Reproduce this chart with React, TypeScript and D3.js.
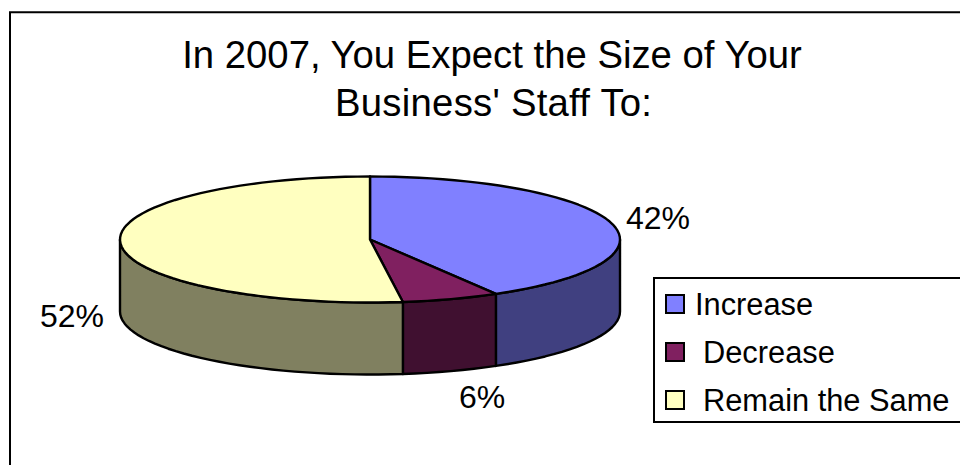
import React from "react";
import * as d3 from "d3";

const categories = ["Increase", "Decrease", "Remain the Same"];
const values = [41.6, 6.3, 52.1];
const topColors = ["#8080FF", "#802060", "#FFFFC0"];
const sideColors = ["#404080", "#401030", "#808060"];
const titleLines = ["In 2007, You Expect the Size of Your", "Business' Staff To:"];
const labelPositions = [
  { x: 658, y: 229 },
  { x: 482, y: 408 },
  { x: 72, y: 327 },
];
const legendRows = [
  { textX: 695, y: 305 },
  { textX: 703, y: 353 },
  { textX: 703, y: 401 },
];

const cx = 370, cy = 239.5, rx = 250, ry = 63, depth = 72;
const FONT = "'Liberation Sans', Arial, sans-serif";

const pt = (a: number, dy = 0): [number, number] => [cx + rx * Math.sin(a), cy - ry * Math.cos(a) + dy];
const samples = (a0: number, a1: number) => {
  const n = Math.max(2, Math.ceil(Math.abs(a1 - a0) / 0.05));
  return d3.range(n + 1).map((i) => a0 + ((a1 - a0) * i) / n);
};
const line = d3.line<[number, number]>();

export default function App() {
  const arcs = d3.pie<number>().sort(null)(values);
  const sides = arcs.map((s) => {
    const a0 = Math.max(s.startAngle, Math.PI / 2);
    const a1 = Math.min(s.endAngle, (3 * Math.PI) / 2);
    if (a1 <= a0) return null;
    const as = samples(a0, a1);
    return line([...as.map((a) => pt(a)), ...as.slice().reverse().map((a) => pt(a, depth))])! + "Z";
  });
  const tops = arcs.map((s) => line([[cx, cy], ...samples(s.startAngle, s.endAngle).map((a) => pt(a))])! + "Z");
  const fmt = d3.format(".0f");
  return (
    <svg width={960} height={465} style={{ position: "absolute", left: 0, top: 0 }} fontFamily={FONT} fill="#000">
      <rect width={960} height={465} fill="#fff" />
      <path d="M10 465V12.3H960" fill="none" stroke="#000" strokeWidth={2} />
      {titleLines.map((t, i) => (
        <text key={t} x={492 + i * 1.5} y={68 + i * 48} textAnchor="middle" fontSize={38.3} textLength={i === 1 ? 317 : undefined}>{t}</text>
      ))}
      {sides.map((d, i) => d && <path key={i} d={d} fill={sideColors[i]} stroke="#000" strokeWidth={2.4} strokeLinejoin="round" />)}
      {tops.map((d, i) => <path key={i} d={d} fill={topColors[i]} stroke="#000" strokeWidth={2.4} strokeLinejoin="round" />)}
      {values.map((v, i) => (
        <text key={i} x={labelPositions[i].x} y={labelPositions[i].y} textAnchor="middle" fontSize={32}>{fmt(v)}%</text>
      ))}
      <path d="M960 278H654V422H960" fill="#fff" stroke="#000" strokeWidth={2} />
      {categories.map((c, i) => (
        <g key={c}>
          <rect x={666} y={legendRows[i].y - 10} width={18} height={18} fill={topColors[i]} stroke="#000" strokeWidth={2} />
          <text x={legendRows[i].textX} y={legendRows[i].y + 10} fontSize={30.8}>{c}</text>
        </g>
      ))}
    </svg>
  );
}
